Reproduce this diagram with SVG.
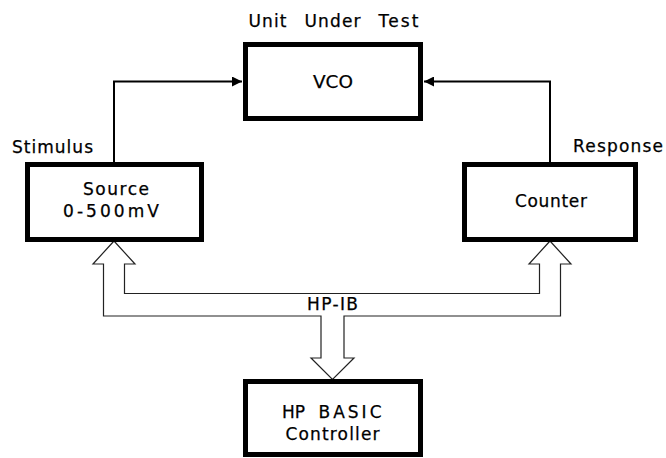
<svg xmlns="http://www.w3.org/2000/svg" width="666" height="458" viewBox="0 0 666 458">
<style>
.box{fill:#fff;stroke:#000;stroke-width:5}
.t{font-family:"DejaVu Sans","Liberation Sans",Arial,sans-serif;font-size:17px;fill:#000;stroke:#000;stroke-width:0.25}
.wire{fill:none;stroke:#000;stroke-width:2}
.bus{fill:#fff;stroke:#222;stroke-width:1.2;stroke-linejoin:miter}
</style>
<defs>
<marker id="ah" viewBox="0 0 10 10" refX="10" refY="5" markerWidth="14" markerHeight="10" markerUnits="userSpaceOnUse" orient="auto">
<path d="M0,0 L10,5 L0,10 Z" fill="#000"/>
</marker>
</defs>
<rect width="666" height="458" fill="#fff"/>
<g id="connectors">
<path class="wire" d="M114,162 V81.5 H242" marker-end="url(#ah)"/>
<path class="wire" d="M550,162 V81.5 H424" marker-end="url(#ah)"/>
<path class="bus" d="M114,241 L135,264 H124.5 V293.5 H539.5 V264 H529 L550,241 L571,264 H560.5 V316 H344 V358 H354 L332.5,379.5 L311,358 H321 V316 H103.5 V264 H93 Z"/>
<text class="t" x="307" y="310" textLength="51" lengthAdjust="spacing">HP-IB</text>
</g>
<g id="vco">
<rect class="box" x="245.5" y="44.5" width="175" height="74"/>
<text class="t" x="313" y="88" textLength="40" lengthAdjust="spacingAndGlyphs" style="font-size:18px">VCO</text>
<text class="t" y="27"><tspan x="248.5" textLength="38" lengthAdjust="spacing">Unit</tspan><tspan x="304.5" textLength="56" lengthAdjust="spacing">Under</tspan><tspan x="378.5" textLength="40" lengthAdjust="spacing">Test</tspan></text>
</g>
<g id="source">
<rect class="box" x="27.5" y="164.5" width="174" height="75"/>
<text class="t" x="12" y="153" textLength="81" lengthAdjust="spacing">Stimulus</text>
<text class="t" x="83" y="195" textLength="66" lengthAdjust="spacing">Source</text>
<text class="t" x="63" y="217" textLength="96" lengthAdjust="spacing">0-500mV</text>
</g>
<g id="counter">
<rect class="box" x="464.5" y="164.5" width="171" height="75"/>
<text class="t" x="573" y="152" textLength="90" lengthAdjust="spacing">Response</text>
<text class="t" x="515" y="207" textLength="72" lengthAdjust="spacing">Counter</text>
</g>
<g id="controller">
<rect class="box" x="245.5" y="381.5" width="175" height="73"/>
<text class="t" y="418"><tspan x="282">HP</tspan><tspan x="318.5" textLength="63" lengthAdjust="spacing">BASIC</tspan></text>
<text class="t" x="285.5" y="440" textLength="94" lengthAdjust="spacing">Controller</text>
</g>
</svg>
